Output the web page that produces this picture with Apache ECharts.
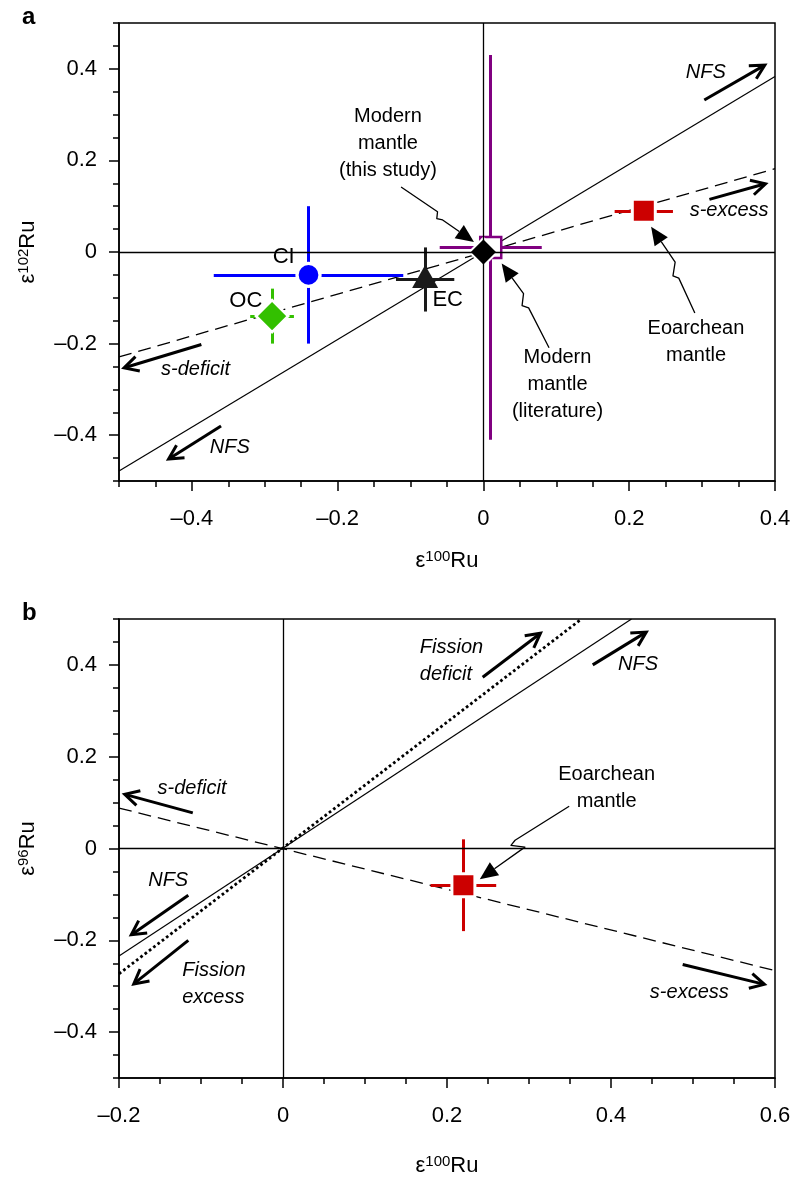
<!DOCTYPE html>
<html><head><meta charset="utf-8">
<script src="https://cdn.jsdelivr.net/npm/echarts@6/dist/echarts.min.js"></script>
<style>html,body{margin:0;padding:0;background:#fff}#c{width:800px;height:1185px}</style>
</head><body><div id="c"></div>
<script>
// ---------------- data ----------------
const aXRange = [-0.5, 0.4];
const aYRange = [-0.5, 0.5];
const aXTicks = [-0.4, -0.2, 0, 0.2, 0.4];
const aYTicks = [-0.4, -0.2, 0, 0.2, 0.4];
const bXRange = [-0.2, 0.6];
const bYRange = [-0.5, 0.5];
const bXTicks = [-0.2, 0, 0.2, 0.4, 0.6];
const bYTicks = [-0.4, -0.2, 0, 0.2, 0.4];
const minorStep = 0.05;

// panel a samples
const aSamples = ['Modern mantle (literature)', 'CI', 'OC', 'EC', 'Eoarchean mantle', 'Modern mantle (this study)'];
const aX    = [0.01, -0.24, -0.29, -0.08, 0.22, 0];
const aY    = [0.01, -0.05, -0.14, -0.06, 0.09, 0];
const aXErr = [0.07, 0.13, 0.03, 0.04, 0.04, 0];
const aYErr = [0.42, 0.15, 0.06, 0.07, 0, 0];

// panel b samples
const bSamples = ['Eoarchean mantle'];
const bX    = [0.22];
const bY    = [-0.08];
const bXErr = [0.04];
const bYErr = [0.10];

// reference lines (end points)
const aNfsLine      = [[-0.5, -0.478], [0.4, 0.383]];
const aSProcessLine = [[-0.5, -0.229], [0.4, 0.182]];
const bNfsLine      = [[-0.2, -0.234], [0.425, 0.5]];
const bFissionLine  = [[-0.2, -0.273], [0.364, 0.5]];
const bSProcessLine = [[-0.2, 0.088], [0.6, -0.266]];

// direction arrows (tail, head)
const aArrows = [
  [[0.303, 0.332], [0.386, 0.408]],
  [[0.31, 0.115], [0.387, 0.149]],
  [[-0.387, -0.202], [-0.493, -0.253]],
  [[-0.36, -0.38], [-0.432, -0.452]]
];
const bArrows = [
  [[-0.110, 0.0777], [-0.193, 0.118]],
  [[-0.1155, -0.102], [-0.185, -0.188]],
  [[-0.1155, -0.2], [-0.182, -0.295]],
  [[0.2435, 0.373], [0.314, 0.469]],
  [[0.3777, 0.40], [0.443, 0.4715]],
  [[0.4874, -0.2526], [0.587, -0.296]]
];

// pointer (lightning) arrows
const aPointers = [
  [[-0.113, 0.142], [-0.063, 0.088], [-0.064, 0.073], [-0.056, 0.070], [-0.013, 0.022]],
  [[0.090, -0.209], [0.062, -0.122], [0.053, -0.117], [0.055, -0.091], [0.025, -0.025]],
  [[0.290, -0.133], [0.268, -0.057], [0.260, -0.052], [0.263, -0.022], [0.230, 0.055]]
];
const bPointers = [
  [[0.349, 0.092], [0.283, 0.018], [0.278, 0.007], [0.295, 0.003], [0.240, -0.067]]
];

// annotation texts
const aTexts = [
  {t: 'NFS', x: 0.305, y: 0.393, it: true},
  {t: 's-excess', x: 0.337, y: 0.091, it: true},
  {t: 's-deficit', x: -0.395, y: -0.257, it: true},
  {t: 'NFS', x: -0.348, y: -0.427, it: true},
  {t: 'Modern\nmantle\n(this study)', x: -0.131, y: 0.237},
  {t: 'Modern\nmantle\n(literature)', x: 0.1016, y: -0.29},
  {t: 'Eoarchean\nmantle', x: 0.2916, y: -0.196}
];
const aPointLabels = [
  {t: 'CI', x: -0.274, y: -0.01},
  {t: 'OC', x: -0.326, y: -0.107},
  {t: 'EC', x: -0.049, y: -0.104}
];
const bTexts = [
  {t: 's-deficit', x: -0.111, y: 0.13, it: true},
  {t: 'NFS', x: -0.14, y: -0.069, it: true},
  {t: 'Fission\nexcess', x: -0.1235, y: -0.296, it: true, left: true},
  {t: 'Fission\ndeficit', x: 0.1663, y: 0.4085, it: true, left: true},
  {t: 'NFS', x: 0.433, y: 0.402, it: true},
  {t: 'Eoarchean\nmantle', x: 0.3947, y: 0.132},
  {t: 's-excess', x: 0.4955, y: -0.313, it: true}
];

// ---------------- styles ----------------
const FONT = '"Liberation Sans", Arial, Helvetica, sans-serif';
const markerStyle = {
  'Modern mantle (literature)': {symbol: 'rect', size: 21, color: '#ffffff', border: '#800080', bw: 2.5, bar: '#800080'},
  'CI': {symbol: 'circle', size: 23, color: '#0000ff', border: '#ffffff', bw: 3.3, bar: '#0000ff'},
  'OC': {symbol: 'diamond', size: 32, color: '#33c000', border: '#ffffff', bw: 2.8, bar: '#33c000'},
  'EC': {symbol: 'triangle', size: [26, 23], color: '#1a1a1a', border: '#1a1a1a', bw: 0, bar: '#1a1a1a', offset: [0, -3]},
  'Eoarchean mantle': {symbol: 'rect', size: 23, color: '#cc0000', border: '#ffffff', bw: 3, bar: '#cc0000'},
  'Modern mantle (this study)': {symbol: 'diamond', size: 28, color: '#000000', border: '#ffffff', bw: 2, bar: '#000000'}
};

function fmt(v) {
  const r = Math.round(v * 10) / 10;
  if (r === 0) return '0';
  return (r < 0 ? '\u2013' : '') + Math.abs(r).toString();
}
const nameRich = {
  t: {fontSize: 22, fontFamily: FONT, color: '#000'},
  s: {fontSize: 15, fontFamily: FONT, color: '#000', padding: [0, 0, 8, 0]}
};
function mainAxis(dim, gridIndex, range, ticks, sup, nameGap) {
  return {
    type: 'value', gridIndex, min: range[0], max: range[1],
    position: dim === 'x' ? 'bottom' : 'left',
    axisLine: {show: true, onZero: false, lineStyle: {color: '#000', width: 1.5}},
    axisTick: {show: true, customValues: ticks, length: 10, lineStyle: {color: '#000', width: 1.5}},
    axisLabel: {show: true, customValues: ticks, formatter: fmt, fontSize: 22, color: '#000',
      fontFamily: FONT, margin: dim === 'x' ? 27 : 22},
    splitLine: {show: false},
    name: '{t|\u03b5}{s|' + sup + '}{t|Ru}', nameLocation: 'middle', nameGap,
    nameRotate: dim === 'x' ? 0 : 90,
    nameTextStyle: {rich: nameRich, fontSize: 22, fontFamily: FONT, color: '#000'}
  };
}
function minorAxis(dim, gridIndex, range) {
  return {
    type: 'value', gridIndex, min: range[0], max: range[1], interval: minorStep,
    position: dim === 'x' ? 'bottom' : 'left',
    axisLine: {show: false, onZero: false},
    axisTick: {show: true, length: 6, lineStyle: {color: '#000', width: 1.5}},
    axisLabel: {show: false}, splitLine: {show: false}
  };
}

function refLine(ai, data, ls, withZero) {
  const s = {type: 'line', xAxisIndex: ai, yAxisIndex: ai, data, symbol: 'none', showSymbol: false,
    silent: true, lineStyle: ls, z: 2};
  if (withZero) {
    s.markLine = {silent: true, symbol: ['none', 'none'], label: {show: false},
      lineStyle: {color: '#000', type: 'solid', width: 1.3},
      data: [{xAxis: 0}, {yAxis: 0}]};
  }
  return s;
}
function errorBars(ai, names, xs, ys, xe, ye) {
  const data = [];
  names.forEach((n, i) => {
    const ls = {color: markerStyle[n].bar, width: 3, opacity: 1, type: 'solid'};
    if (xe[i] > 0) data.push({coords: [[xs[i] - xe[i], ys[i]], [xs[i] + xe[i], ys[i]]], lineStyle: ls});
    if (ye[i] > 0) data.push({coords: [[xs[i], ys[i] - ye[i]], [xs[i], ys[i] + ye[i]]], lineStyle: ls});
  });
  return {type: 'lines', coordinateSystem: 'cartesian2d', xAxisIndex: ai, yAxisIndex: ai,
    silent: true, z: 3, symbol: ['none', 'none'], lineStyle: {opacity: 1}, data};
}
function markers(ai, names, xs, ys) {
  return {type: 'scatter', xAxisIndex: ai, yAxisIndex: ai, silent: true, z: 4,
    itemStyle: {opacity: 1},
    data: names.map((n, i) => {
      const st = markerStyle[n];
      return {name: n, value: [xs[i], ys[i]], symbol: st.symbol, symbolSize: st.size,
        symbolOffset: st.offset || [0, 0],
        itemStyle: {color: st.color, borderColor: st.border, borderWidth: st.bw, opacity: 1}};
    })};
}
// arrows drawn through the axes' scales (api.coord); kind 'open' = thick chevron arrow, 'pointer' = thin line + filled head
function arrowSeries(ai, list, kind) {
  return {
    type: 'custom', xAxisIndex: ai, yAxisIndex: ai, silent: true, z: 5, clip: false,
    data: list.map((p, i) => [p[p.length - 1][0], p[p.length - 1][1], i]),
    renderItem: function (params, api) {
      const pts = list[api.value(2)].map(p => api.coord(p));
      const n = pts.length;
      const tip = pts[n - 1], prev = pts[n - 2];
      const ang = Math.atan2(tip[1] - prev[1], tip[0] - prev[0]);
      const children = [];
      if (kind === 'open') {
        const L = 16, th = 28 * Math.PI / 180;
        const a1 = [tip[0] - L * Math.cos(ang - th), tip[1] - L * Math.sin(ang - th)];
        const a2 = [tip[0] - L * Math.cos(ang + th), tip[1] - L * Math.sin(ang + th)];
        const back = [tip[0] - 2 * Math.cos(ang), tip[1] - 2 * Math.sin(ang)];
        children.push({type: 'polyline', shape: {points: pts.slice(0, n - 1).concat([back])},
          style: {stroke: '#000', lineWidth: 3, fill: null, lineCap: 'butt'}});
        children.push({type: 'polyline', shape: {points: [a1, tip, a2]},
          style: {stroke: '#000', lineWidth: 3, fill: null, lineJoin: 'miter', lineCap: 'butt'}});
      } else {
        const L = 18, hw = 8;
        const base = [tip[0] - L * Math.cos(ang), tip[1] - L * Math.sin(ang)];
        const nx = -Math.sin(ang), ny = Math.cos(ang);
        children.push({type: 'polyline', shape: {points: pts.slice(0, n - 1).concat([base])},
          style: {stroke: '#000', lineWidth: 1.3, fill: null, lineJoin: 'round'}});
        children.push({type: 'polygon', shape: {points: [tip,
          [base[0] + hw * nx, base[1] + hw * ny], [base[0] - hw * nx, base[1] - hw * ny]]},
          style: {fill: '#000', stroke: null}});
      }
      return {type: 'group', children};
    }
  };
}
function texts(ai, list, size) {
  return {type: 'scatter', xAxisIndex: ai, yAxisIndex: ai, silent: true, z: 6,
    symbolSize: 1, itemStyle: {color: 'rgba(0,0,0,0)', opacity: 1},
    data: list.map(o => ({name: o.t, value: [o.x, o.y],
      label: {show: true, formatter: '{b}', position: o.left ? 'right' : 'inside', distance: 0,
        align: o.left ? 'left' : 'center',
        fontStyle: o.it ? 'italic' : 'normal', fontSize: size, lineHeight: 27,
        fontFamily: FONT, color: '#000', opacity: 1, textBorderWidth: 0}}))};
}

const chart = echarts.init(document.getElementById('c'), null, {renderer: 'canvas'});
const option = {
  animation: false,
  backgroundColor: '#ffffff',
  textStyle: {fontFamily: FONT},
  graphic: [
    {type: 'text', left: 22, top: 5, style: {text: 'a', font: 'bold 24px ' + FONT, fill: '#000'}},
    {type: 'text', left: 22, top: 601, style: {text: 'b', font: 'bold 24px ' + FONT, fill: '#000'}}
  ],
  grid: [
    {left: 119, top: 23, width: 656, height: 458, show: true, borderColor: '#000', borderWidth: 1.5, backgroundColor: 'transparent'},
    {left: 119, top: 619, width: 656, height: 459, show: true, borderColor: '#000', borderWidth: 1.5, backgroundColor: 'transparent'}
  ],
  xAxis: [
    mainAxis('x', 0, aXRange, aXTicks, '100', 68),
    minorAxis('x', 0, aXRange),
    mainAxis('x', 1, bXRange, bXTicks, '100', 76),
    minorAxis('x', 1, bXRange)
  ],
  yAxis: [
    mainAxis('y', 0, aYRange, aYTicks, '102', 80),
    minorAxis('y', 0, aYRange),
    mainAxis('y', 1, bYRange, bYTicks, '96', 80),
    minorAxis('y', 1, bYRange)
  ],
  series: [
    refLine(0, aNfsLine, {color: '#000', width: 1.2, type: 'solid'}, true),
    refLine(0, aSProcessLine, {color: '#000', width: 1.3, type: [13, 7]}, false),
    errorBars(0, aSamples, aX, aY, aXErr, aYErr),
    markers(0, aSamples, aX, aY),
    arrowSeries(0, aArrows, 'open'),
    arrowSeries(0, aPointers, 'pointer'),
    texts(0, aTexts, 20),
    texts(0, aPointLabels, 22),

    refLine(2, bNfsLine, {color: '#000', width: 1.2, type: 'solid'}, true),
    refLine(2, bFissionLine, {color: '#000', width: 2.8, type: [2.7, 2.7], cap: 'butt'}, false),
    refLine(2, bSProcessLine, {color: '#000', width: 1.3, type: [13, 7]}, false),
    errorBars(2, bSamples, bX, bY, bXErr, bYErr),
    markers(2, bSamples, bX, bY),
    arrowSeries(2, bArrows, 'open'),
    arrowSeries(2, bPointers, 'pointer'),
    texts(2, bTexts, 20)
  ]
};
chart.setOption(option);
</script>
</body></html>
